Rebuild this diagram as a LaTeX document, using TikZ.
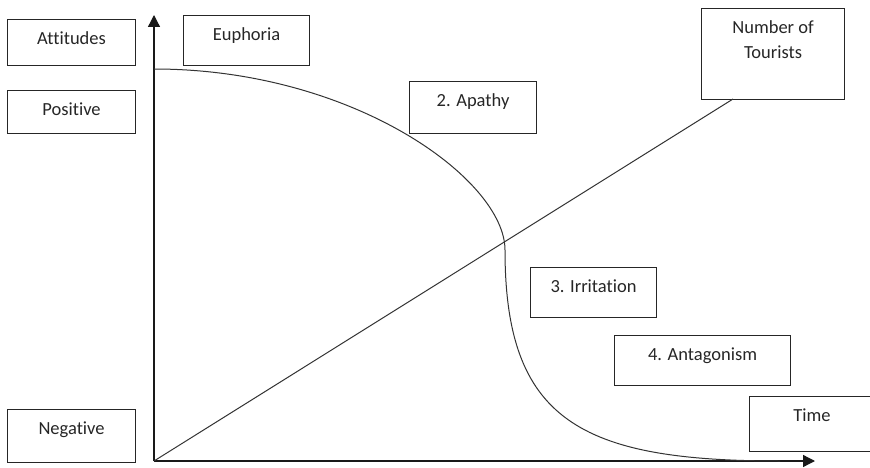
\documentclass[tikz,border=0pt]{standalone}
\usepackage{fontspec}
\setmainfont{Carlito}[Ligatures=NoCommon]
\usepackage{tikz}
\usetikzlibrary{arrows.meta}
\tikzstyle{txtbox} = [draw=black!85, line width=1.1pt, inner sep=0pt, anchor=north west, text height=25pt, align=center, text=black!85]
\tikzstyle{axis} = [line width=1.3pt, draw=black!90, -{Triangle[length=12pt,width=12pt]}]
\tikzstyle{curve} = [line width=1pt, draw=black!80]

\begin{document}
\begin{tikzpicture}[x=1pt, y=-1pt, font=\fontsize{18.5}{25}\selectfont]
\useasboundingbox (0,0) rectangle (870,468);
\coordinate (o) at (154,461);
\coordinate (ytop) at (154,15);
\coordinate (xend) at (815,461);
\coordinate (ttip) at (733,99);
\node (att) [txtbox, minimum width=128pt, text depth=21pt] at (7,19) {Attitudes};
\node (pos) [txtbox, minimum width=128pt, text depth=18pt] at (7,90) {Positive};
\node (neg) [txtbox, minimum width=128pt, text depth=28pt] at (7,409) {Negative};
\node (euph) [txtbox, minimum width=126pt, text depth=25pt] at (183,15) {Euphoria};
\node (apathy) [txtbox, minimum width=127pt, text depth=27pt] at (409,81) {2. Apathy};
\node (tour) [txtbox, minimum width=143pt, text height=50pt, text depth=41pt] at (701,8) {Number of\\Tourists};
\node (irr) [txtbox, minimum width=126pt, text depth=25pt] at (530,267) {3. Irritation};
\node (antag) [txtbox, minimum width=176pt, text depth=25pt] at (614,335) {4. Antagonism};
\node (time) [txtbox, minimum width=125pt, text depth=30pt] at (749,396) {Time};
% axes
\draw [axis] (o) -- (ytop);
\draw [axis] (o) -- (xend);
% tourists and attitudes
\draw [curve] (o) -- (ttip);
\draw [curve] (154,69) .. controls (354,69) and (505,180) .. (505,250)
  .. controls (505,420) and (580,461) .. (780,461);
\end{tikzpicture}
\end{document}
